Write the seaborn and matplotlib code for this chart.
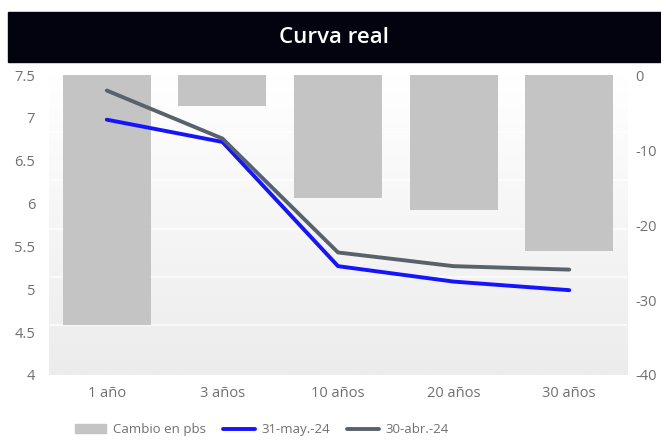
import numpy as np
import pandas as pd
import seaborn as sns
import matplotlib.pyplot as plt
from matplotlib.patches import Rectangle, Patch
from matplotlib.lines import Line2D

plazos = ["1 año", "3 años", "10 años", "20 años", "30 años"]
curva_may = [6.98, 6.72, 5.27, 5.09, 4.99]
curva_abr = [7.32, 6.76, 5.43, 5.27, 5.23]
cambio_pbs = [-33.3, -4.1, -16.4, -18.0, -23.5]
series_names = ["31-may.-24", "30-abr.-24"]
left_ticks = [4, 4.5, 5, 5.5, 6, 6.5, 7, 7.5]
right_ticks = [0, -10, -20, -30, -40]

colors = {"31-may.-24": "#1414ff", "30-abr.-24": "#59626b"}
bar_color = "#c4c4c4"
text_grey = "#707070"

sns.set_theme(style="white")
plt.rcParams['font.family'] = ['Open Sans', 'DejaVu Sans']

df_lines = pd.DataFrame({
    "plazo": plazos * 2,
    "valor": curva_may + curva_abr,
    "serie": [series_names[0]] * 5 + [series_names[1]] * 5,
})
df_bars = pd.DataFrame({"plazo": plazos, "cambio": cambio_pbs})

fig = plt.figure(figsize=(6.61, 4.41), dpi=100)
ax = fig.add_axes([0.0741, 0.1497, 0.8745, 0.680])
ax2 = ax.twinx()

# background gradient on the lower (twin) axes
grad = np.linspace(0, 1, 256).reshape(-1, 1)
ax2.imshow(grad, cmap=sns.blend_palette(["#ffffff", "#ececec"], as_cmap=True),
           extent=[0, 1, 0, 1], transform=ax2.transAxes, aspect='auto', zorder=0)
for frac in [0.19, 0.351, 0.512, 0.673, 0.834]:
    ax2.axhline(-40 * frac, color="white", lw=1.2, alpha=0.8, zorder=0.5)

sns.barplot(data=df_bars, x="plazo", y="cambio", color=bar_color, width=0.76,
            saturation=1, linewidth=0, ax=ax2, zorder=1)
ax2.set_ylim(-40, 0)
ax2.set_yticks(right_ticks)
ax2.set_yticklabels([str(t) for t in right_ticks])

sns.lineplot(data=df_lines, x="plazo", y="valor", hue="serie", palette=colors,
             sort=False, lw=2.8, ax=ax, legend=False)
ax.set_zorder(ax2.get_zorder() + 1)
ax.patch.set_visible(False)
ax.set_ylim(4, 7.5)
ax.set_yticks(left_ticks)
ax.set_yticklabels([f"{t:g}" for t in left_ticks])
ax.set_xlim(-0.5, 4.5)
ax2.set_xlim(-0.5, 4.5)

for a in (ax, ax2):
    a.set_xlabel("")
    a.set_ylabel("")
    for s in a.spines.values():
        s.set_visible(False)
    a.tick_params(length=0, labelsize=10.5, labelcolor=text_grey)
ax.tick_params(axis='x', pad=8)
ax.tick_params(axis='y', pad=10)
ax2.tick_params(axis='y', pad=6)

# title bar
fig.patches.append(Rectangle((8 / 661, 0.859), 1 - 8 / 661, 0.114,
                             transform=fig.transFigure, color="#02030f", zorder=0))
fig.text(0.506, 0.916, "Curva real", color="white", fontsize=16, fontweight="semibold",
         ha="center", va="center")

handles = [Patch(color=bar_color, label="Cambio en pbs"),
           Line2D([], [], color=colors[series_names[0]], lw=2.8, label=series_names[0]),
           Line2D([], [], color=colors[series_names[1]], lw=2.8, label=series_names[1])]
leg = fig.legend(handles=handles, loc="center", bbox_to_anchor=(0.396, 0.025), ncol=3,
                 frameon=False, fontsize=9.5, handlelength=2.4, handletextpad=0.5,
                 columnspacing=1.3)
for t in leg.get_texts():
    t.set_color(text_grey)

fig.savefig("out.png", dpi=100)
